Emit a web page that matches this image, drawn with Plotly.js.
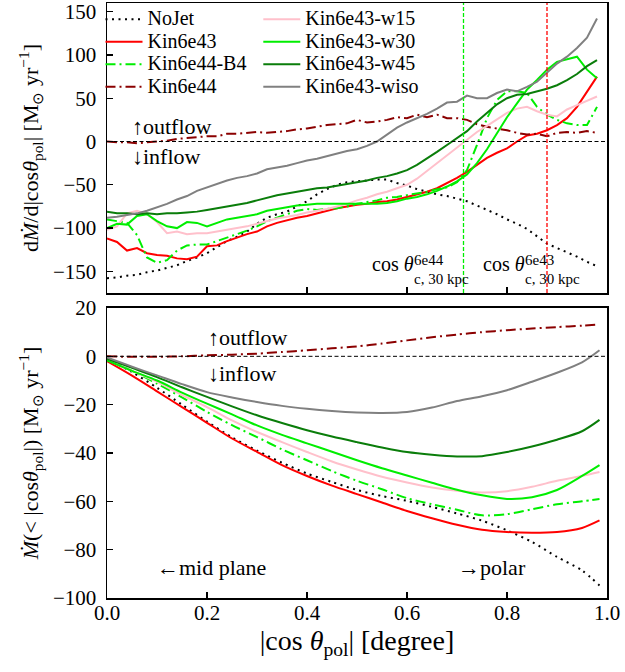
<!DOCTYPE html>
<html>
<head>
<meta charset="utf-8">
<script src="https://cdn.plot.ly/plotly-3.0.1.min.js"></script>
<style>html,body{margin:0;padding:0;background:#fff;}#chart{width:625px;height:672px;}</style>
</head>
<body>
<div id="chart"></div>
<script>
// ---------- data ----------
const seriesNames = ["NoJet","Kin6e43","Kin6e44-B4","Kin6e44","Kin6e43-w15","Kin6e43-w30","Kin6e43-w45","Kin6e43-wiso"];

// top panel: dMdot / d|cos theta_pol|
const xTop = [0.00,0.02,0.04,0.06,0.08,0.10,0.12,0.14,0.16,0.18,0.20,0.22,0.24,0.26,0.28,0.30,0.32,0.34,0.36,0.38,0.40,0.42,0.44,0.46,0.48,0.50,0.52,0.54,0.56,0.58,0.60,0.62,0.64,0.66,0.68,0.70,0.72,0.74,0.76,0.78,0.80,0.82,0.84,0.86,0.88,0.90,0.92,0.94,0.96,0.98];
const topNoJet = [-158,-157,-155,-154,-151,-149,-146,-143,-138,-134,-129,-122,-115,-110,-104,-95,-88,-84,-81,-75,-69,-61,-55,-50,-47,-46,-45,-44,-44,-48,-51,-55,-58,-61,-63,-66,-69,-74,-79,-84,-90,-95,-101,-109,-118,-123,-128,-133,-139,-144];
const topK43 = [-112,-116,-126,-123,-129,-131,-132,-135,-136,-133,-121,-120,-115,-111,-107,-104,-98,-94,-91,-88,-86,-83,-80,-77,-75,-73,-72,-70,-69,-67,-64,-61,-58,-54,-48,-42,-35,-27,-19,-13,-8,0,7,9,13,19,27,40,57,75];
const topB4 = [-90,-92,-94,-108,-134,-140,-137,-126,-120,-119,-119,-115,-111,-107,-103,-98,-92,-88,-84,-80,-78,-79,-78,-77,-75,-72,-70,-68,-65,-64,-62,-60,-58,-55,-53,-47,-33,-4,27,48,58,58,56,40,31,25,21,19,19,40];
const topK44 = [0,-1,-1,-2,-1,0,1,3,4,5,6,6,9,9,10,11,10,11,12,14,15,17,19,20,21,25,22,23,25,28,27,31,28,31,27,27,25,20,17,15,13,10,8,9,6,10,11,10,12,10];
const topW15 = [-102,-98,-83,-80,-84,-93,-106,-104,-107,-106,-106,-104,-102,-100,-98,-95,-92,-89,-87,-85,-82,-80,-78,-75,-72,-68,-65,-61,-58,-54,-50,-43,-34,-25,-15,-7,2,11,18,26,33,38,40,35,31,29,37,42,47,52];
const topW30 = [-100,-95,-96,-86,-84,-92,-98,-100,-93,-94,-98,-94,-90,-88,-86,-84,-80,-78,-76,-74,-73,-72,-72,-72,-72,-72,-72,-72,-71,-69,-66,-64,-61,-57,-52,-46,-38,-25,-9,9,28,44,60,71,83,92,95,98,83,73];
const topW45 = [-81,-83,-83,-84,-83,-84,-83,-83,-82,-81,-79,-77,-75,-73,-71,-68,-65,-62,-60,-58,-56,-54,-53,-51,-49,-47,-45,-42,-40,-37,-33,-27,-20,-12,-4,4,12,23,33,43,50,54,55,58,61,65,71,78,87,94];
const topWiso = [-88,-87,-85,-83,-80,-76,-72,-67,-63,-57,-53,-49,-45,-42,-40,-37,-32,-30,-28,-25,-22,-20,-17,-14,-11,-9,-5,0,8,16,22,27,32,38,45,46,53,50,50,56,60,58,63,69,79,90,98,108,120,142];

// bottom panel: cumulative Mdot(< |cos theta_pol|)
const xBot = [0.00,0.05,0.10,0.15,0.20,0.25,0.30,0.35,0.40,0.45,0.50,0.55,0.60,0.65,0.70,0.75,0.80,0.85,0.90,0.95,0.985];
const botNoJet = [-1,-6.5,-13,-20,-27,-33.5,-39,-44,-48.5,-52,-55.3,-57.8,-59.8,-62.3,-65,-68,-72,-76.8,-83,-88.6,-94.8];
const botK43 = [-2,-8,-14.5,-21,-27.5,-34,-39.5,-45,-49.5,-53.5,-57,-60.5,-64,-67,-69.7,-71.8,-72.7,-73,-72.7,-71,-67.9];
const botB4 = [-1.4,-6,-11.3,-17,-23,-28.5,-33.4,-38.5,-43,-47.5,-51.5,-55,-58.7,-61.2,-63.5,-65.8,-65.3,-63.3,-61.2,-60,-59];
const botK44 = [0,-0.2,-0.2,0,0.4,0.7,1.1,1.8,2.5,3.3,4.1,5.3,6.6,7.9,9,10,10.8,11.5,12.1,12.7,13.2];
const botW15 = [-1.5,-6,-10.6,-16,-21,-26.5,-31.3,-35.5,-39.6,-43.5,-46.8,-49.8,-52.2,-54.3,-55.6,-56.3,-55.8,-54,-51.5,-49.5,-47.9];
const botW30 = [-1.7,-6,-10,-15,-19.6,-24,-28.6,-32.5,-36,-39.5,-43,-46.3,-49.3,-52.3,-55.2,-57.5,-59,-58.3,-55.3,-49.5,-45];
const botW45 = [-1,-4.8,-8.6,-12.8,-16.8,-20.7,-24.4,-27.6,-30.6,-33.2,-35.5,-37.7,-39.6,-40.7,-41.4,-41.3,-39.6,-37.3,-34.5,-31,-26.3];
const botWiso = [-0.5,-4.3,-7.9,-11.5,-14.8,-17,-18.9,-20.5,-21.7,-22.6,-23.2,-23.4,-23,-21.2,-18.5,-16.5,-14,-10.5,-6.8,-2.5,2.5];

// critical angles (vertical markers) and labels
const critX = [0.713, 0.88];
const critTag = ["6e44", "6e43"];
const critSub = "c, 30 kpc";

// ---------- styles ----------
const colors = ["#000000","#ff0000","#00ee00","#8b0000","#ffc0cb","#00ee00","#0a7d0a","#808080"];
const dashDot = "10px,4px,2px,4px";
const dashes = ["2px,4.5px","solid",dashDot,dashDot,"solid","solid","solid","solid"];
const legendOf = ["legend","legend","legend","legend","legend2","legend2","legend2","legend2"];

const topSeries = [topNoJet, topK43, topB4, topK44, topW15, topW30, topW45, topWiso];
const botSeries = [botNoJet, botK43, botB4, botK44, botW15, botW30, botW45, botWiso];

const FONT = "'Liberation Serif', 'Times New Roman', serif";
const traces = [];
seriesNames.forEach((nm, i) => {
  traces.push({
    x: xTop, y: topSeries[i], xaxis: "x", yaxis: "y", type: "scatter", mode: "lines",
    name: '<span style="font-size:20px">' + nm + '</span>',
    legend: legendOf[i],
    line: {color: colors[i], width: 2, dash: dashes[i]}
  });
});
seriesNames.forEach((nm, i) => {
  traces.push({
    x: xBot, y: botSeries[i], xaxis: "x2", yaxis: "y2", type: "scatter", mode: "lines",
    showlegend: false, name: nm,
    line: {color: colors[i], width: 2, dash: dashes[i], shape: "spline", smoothing: 0.8}
  });
});

const shapes = [
  {type: "line", xref: "x domain", yref: "y", x0: 0, x1: 1, y0: 0, y1: 0, line: {color: "#000", width: 1, dash: "4px,2.5px"}},
  {type: "line", xref: "x2 domain", yref: "y2", x0: 0, x1: 1, y0: 0, y1: 0, line: {color: "#000", width: 1, dash: "4px,2.5px"}},
  {type: "line", xref: "x", yref: "y domain", x0: critX[0], x1: critX[0], y0: 0, y1: 1, line: {color: "#00ee00", width: 1.3, dash: "4px,2px"}},
  {type: "line", xref: "x", yref: "y domain", x0: critX[1], x1: critX[1], y0: 0, y1: 1, line: {color: "#ff0000", width: 1.3, dash: "4px,2px"}}
];

const fnt = (s) => ({family: FONT, size: s, color: "#000"});
const ann = (x, y, xr, yr, text, size) => ({x: x, y: y, xref: xr, yref: yr, text: text, showarrow: false, xanchor: "left", yanchor: "middle", font: fnt(size), borderpad: 0});
const annotations = [
  ann(0.048, 17, "x", "y", "↑outflow", 22),
  ann(0.048, -17.6, "x", "y", "↓inflow", 22),
  ann(0.528, -142, "x", "y", "cos <i>θ</i>", 20),
  ann(0.612, -136.5, "x", "y", critTag[0], 15),
  ann(0.612, -158.5, "x", "y", critSub, 15),
  ann(0.75, -142, "x", "y", "cos <i>θ</i>", 20),
  ann(0.834, -136.5, "x", "y", critTag[1], 15),
  ann(0.834, -158.5, "x", "y", critSub, 15),
  ann(0.2, 7.9, "x2", "y2", "↑outflow", 22),
  ann(0.2, -7.0, "x2", "y2", "↓inflow", 22),
  ann(0.098, -87.3, "x2", "y2", "←mid plane", 22),
  ann(0.7, -87.3, "x2", "y2", "→polar", 22)
];

const axBase = () => ({
  showline: true, mirror: true, linecolor: "#000", linewidth: 1.5,
  ticks: "inside", ticklen: 6, tickwidth: 1.3, tickcolor: "#000",
  showgrid: false, zeroline: false,
  tickfont: fnt(21)
});

const layout = {
  width: 625, height: 672,
  margin: {l: 107, r: 18, t: 3, b: 74},
  paper_bgcolor: "#fff", plot_bgcolor: "#fff",
  font: {family: FONT, size: 20, color: "#000"},
  xaxis: Object.assign(axBase(), {domain: [0, 1], range: [0, 1], anchor: "y", tickvals: [0, 0.2, 0.4, 0.6, 0.8, 1.0], showticklabels: false}),
  yaxis: Object.assign(axBase(), {domain: [0.5126, 1], range: [-175, 160], anchor: "x", tickvals: [-150, -100, -50, 0, 50, 100, 150], ticklabelstandoff: 5,
    title: {text: "d<i>Ṁ</i>/d|cos<i>θ</i><sub>pol</sub>| [M<sub>⊙</sub> yr<sup>−1</sup>]", font: fnt(22), standoff: 8}}),
  xaxis2: Object.assign(axBase(), {domain: [0, 1], range: [0, 1], anchor: "y2", tickvals: [0, 0.2, 0.4, 0.6, 0.8, 1.0], tickformat: ".1f", ticklabelstandoff: -5,
    title: {text: "|cos <i>θ</i><sub>pol</sub>| [degree]", font: fnt(28), standoff: 4}}),
  yaxis2: Object.assign(axBase(), {domain: [0, 0.4874], range: [-100, 20], anchor: "x2", tickvals: [-100, -80, -60, -40, -20, 0, 20], ticklabelstandoff: 5,
    title: {text: "<i>Ṁ</i>(&lt; |cos<i>θ</i><sub>pol</sub>|) [M<sub>⊙</sub> yr<sup>−1</sup>]", font: fnt(22), standoff: 8}}),
  legend: {x: -0.013, y: 1, xanchor: "left", yanchor: "top", bgcolor: "rgba(0,0,0,0)", borderwidth: 0, font: fnt(15), itemwidth: 37, tracegroupgap: 0},
  legend2: {x: 0.3026, y: 1, xanchor: "left", yanchor: "top", bgcolor: "rgba(0,0,0,0)", borderwidth: 0, font: fnt(15), itemwidth: 37, tracegroupgap: 0},
  shapes: shapes,
  annotations: annotations,
  showlegend: true
};

Plotly.newPlot("chart", traces, layout, {displayModeBar: false, staticPlot: true});
</script>
</body>
</html>
